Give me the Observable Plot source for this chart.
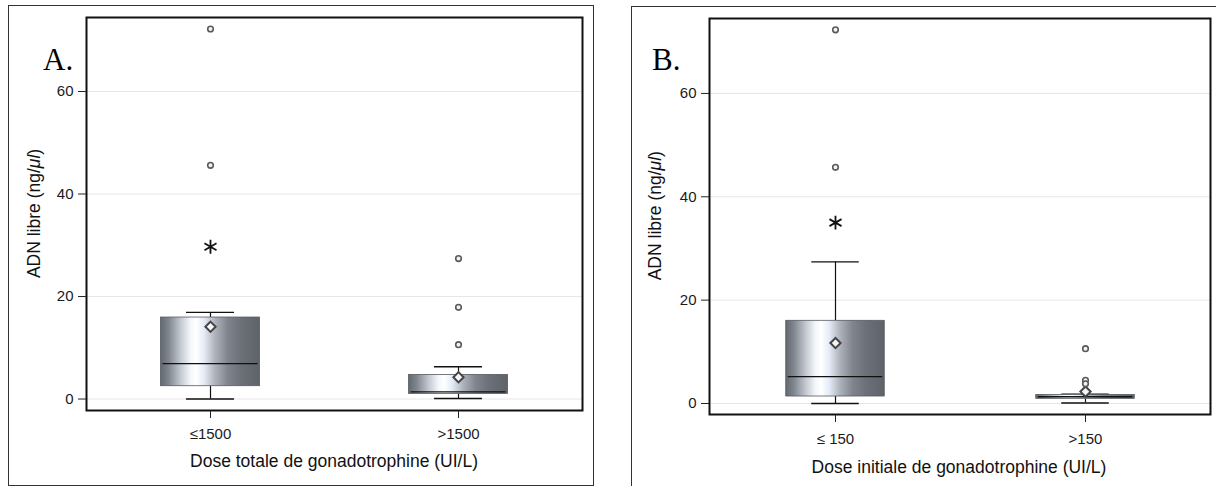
<!DOCTYPE html>
<html><head><meta charset="utf-8">
<script src="https://cdn.jsdelivr.net/npm/d3@7"></script>
<script src="https://cdn.jsdelivr.net/npm/@observablehq/plot@0.6"></script>
<style>
body{margin:0;background:#fff;overflow:hidden;}
#wrap{position:relative;width:1216px;height:486px;overflow:hidden;}
.outer{position:absolute;border:1.5px solid #333;box-sizing:border-box;}
.panel{position:absolute;top:0;}
#wrap svg g[aria-label*="tick label"], #wrap svg g[aria-label*="tick label"] text { font-size: 15px !important; }
</style></head><body>
<div id="wrap">
  <div class="outer" style="left:8px;top:5px;width:586px;height:481px"></div>
  <div class="outer" style="left:631px;top:6px;width:620px;height:520px"></div>
  <div class="panel" id="pa" style="left:0px"></div>
  <div class="panel" id="pb" style="left:616px"></div>
</div>
<script>
// ---------- Panel A data ----------
const groupsA = ["≤1500", ">1500"];
const q1A = [2.5, 1.0];
const medianA = [6.9, 1.4];
const q3A = [15.9, 4.7];
const whiskerLowA = [0, 0.1];
const whiskerHighA = [16.9, 6.3];
const meanA = [14.1, 4.25];
const outlierGroupA = ["≤1500", "≤1500", ">1500", ">1500", ">1500"];
const outlierValueA = [72.2, 45.6, 27.4, 17.9, 10.6];
const extremeGroupA = ["≤1500"];
const extremeValueA = [29.7];

// ---------- Panel B data ----------
const groupsB = ["≤ 150", ">150"];
const q1B = [1.35, 0.9];
const medianB = [5.2, 1.3];
const q3B = [16.0, 1.65];
const whiskerLowB = [0, 0.1];
const whiskerHighB = [27.4, 1.8];
const meanB = [11.7, 2.3];
const outlierGroupB = ["≤ 150", "≤ 150", ">150", ">150", ">150"];
const outlierValueB = [72.3, 45.7, 10.6, 4.5, 3.8];
const extremeGroupB = ["≤ 150"];
const extremeValueB = [35.0];

const yTicks = [0, 20, 40, 60];
const yLabelMain = "ADN libre (ng/";
const yLabelUnit = "μl";
const xLabelA = "Dose totale de gonadotrophine (UI/L)";
const xLabelB = "Dose initiale de gonadotrophine (UI/L)";

const SANS = "'Liberation Sans', Arial, sans-serif";

function panel(cfg) {
  const boxes = cfg.groups.map((g, i) => ({
    g, q1: cfg.q1[i], med: cfg.med[i], q3: cfg.q3[i],
    lo: cfg.lo[i], hi: cfg.hi[i], mean: cfg.mean[i]
  }));
  const outs = cfg.outG.map((g, i) => ({g, v: cfg.outV[i]}));
  const exts = cfg.extG.map((g, i) => ({g, v: cfg.extV[i]}));
  const bw = (cfg.width - cfg.ml - cfg.mr) / 2;
  const boxInset = (bw - 99) / 2;
  const capInset = (bw - 48) / 2;
  const svg = Plot.plot({
    width: cfg.width, height: cfg.height,
    marginLeft: cfg.ml, marginRight: cfg.mr, marginTop: cfg.mt, marginBottom: cfg.mb,
    style: {fontFamily: SANS, fontSize: "15px", color: "#222", background: "transparent", overflow: "visible"},
    x: {type: "band", domain: cfg.groups, padding: 0},
    y: {domain: cfg.ydom},
    marks: [
      Plot.gridY(yTicks, {stroke: "#e6e6e6", strokeOpacity: 1, strokeWidth: 1}),
      Plot.ruleX(boxes, {x: "g", y1: "q3", y2: "hi", stroke: "#111", strokeWidth: 1.2}),
      Plot.ruleX(boxes, {x: "g", y1: "lo", y2: "q1", stroke: "#111", strokeWidth: 1.2}),
      Plot.tickY(boxes, {x: "g", y: "hi", insetLeft: capInset, insetRight: capInset, stroke: "#111", strokeWidth: 1.3}),
      Plot.tickY(boxes, {x: "g", y: "lo", insetLeft: capInset, insetRight: capInset, stroke: "#111", strokeWidth: 1.3}),
      Plot.barY(boxes, {x: "g", y1: "q1", y2: "q3", insetLeft: boxInset, insetRight: boxInset,
        fill: `url(#${cfg.gid})`, stroke: "#555a62", strokeWidth: 0.8, ariaLabel: "box"}),
      Plot.tickY(boxes, {x: "g", y: "med", insetLeft: boxInset + 2, insetRight: boxInset + 2, stroke: "#111", strokeWidth: 1.4}),
      Plot.dot(boxes, {x: "g", y: "mean", symbol: "diamond2", r: 4.6, stroke: "#444", strokeWidth: 2, fill: "#f4f6f9", ariaLabel: "mean"}),
      Plot.dot(outs, {x: "g", y: "v", r: 2.8, stroke: "#5a5a5a", strokeWidth: 1.6, fill: "#f2f2f2", ariaLabel: "outlier"}),
      Plot.dot(exts, {x: "g", y: "v", symbol: "asterisk", r: 6.6, stroke: "#111", strokeWidth: 1.8}),
      Plot.frame({stroke: "#111", strokeWidth: 2}),
      Plot.axisY({ticks: yTicks, tickSize: 8, tickPadding: 5, label: null, fontSize: 15, tickFormat: d => String(d)}),
      Plot.axisX({tickSize: 8, tickPadding: cfg.xpad, label: null, fontSize: 15})
    ]
  });
  const s = d3.select(svg);
  s.selectAll('g[aria-label$="tick label"]').attr("font-size", 15);
  s.selectAll('g[aria-label$="tick label"] text').attr("fill", "#1a1a1a");

  const defs = s.insert("defs", ":first-child");
  const grad = defs.append("linearGradient").attr("id", cfg.gid).attr("x1", 0).attr("x2", 1).attr("y1", 0).attr("y2", 0);
  [[0, "#646971"], [0.08, "#7f858d"], [0.2, "#c2c7cf"], [0.3, "#f3f6fa"], [0.36, "#ffffff"], [0.44, "#e4ecf7"],
   [0.55, "#aeb3bb"], [0.68, "#80858d"], [0.82, "#6b7078"], [1, "#5e6369"]]
    .forEach(([o, c]) => grad.append("stop").attr("offset", o).attr("stop-color", c));
  const f = defs.append("filter").attr("id", cfg.gid + "sh").attr("x", "-30%").attr("y", "-30%").attr("width", "160%").attr("height", "160%");
  f.append("feDropShadow").attr("dx", 1).attr("dy", 2).attr("stdDeviation", 2).attr("flood-color", "#000").attr("flood-opacity", 0.35);
  const f2 = defs.append("filter").attr("id", cfg.gid + "sh2").attr("x", "-100%").attr("y", "-100%").attr("width", "300%").attr("height", "300%");
  f2.append("feDropShadow").attr("dx", 1).attr("dy", 1).attr("stdDeviation", 1.5).attr("flood-color", "#000").attr("flood-opacity", 0.3);
  s.selectAll('g[aria-label="box"]').attr("filter", `url(#${cfg.gid}sh)`);
  s.selectAll('g[aria-label="outlier"]').attr("filter", `url(#${cfg.gid}sh2)`);

  // axis labels
  s.append("text").attr("x", cfg.xlX).attr("y", cfg.xlY).attr("text-anchor", "middle")
    .attr("font-family", SANS).attr("font-size", 17.5).attr("fill", "#111").text(cfg.xlabel);
  const yl = s.append("text").attr("transform", `translate(${cfg.ylX},${cfg.ylY}) rotate(-90)`)
    .attr("text-anchor", "middle").attr("dominant-baseline", "central")
    .attr("font-family", SANS).attr("font-size", 17.5).attr("fill", "#111");
  yl.append("tspan").text(yLabelMain);
  yl.append("tspan").attr("font-style", "italic").text(yLabelUnit);
  yl.append("tspan").text(")");
  s.append("text").attr("x", cfg.letX).attr("y", 70).attr("text-anchor", "start")
    .attr("font-family", "'Liberation Serif', 'Times New Roman', serif")
    .attr("font-size", 31).attr("fill", "#000").text(cfg.letter);
  return svg;
}

document.getElementById("pa").appendChild(panel({
  groups: groupsA, q1: q1A, med: medianA, q3: q3A, lo: whiskerLowA, hi: whiskerHighA, mean: meanA,
  outG: outlierGroupA, outV: outlierValueA, extG: extremeGroupA, extV: extremeValueA,
  width: 600, height: 486, ml: 86, mr: 18, mt: 17, mb: 76, ydom: [-2.24, 74.44], gid: "gA", xpad: 10,
  xlabel: xLabelA, xlX: 334, xlY: 467, ylX: 33.5, ylY: 213.5, letter: "A.", letX: 43
}));
document.getElementById("pb").appendChild(panel({
  groups: groupsB, q1: q1B, med: medianB, q3: q3B, lo: whiskerLowB, hi: whiskerHighB, mean: meanB,
  outG: outlierGroupB, outV: outlierValueB, extG: extremeGroupB, extV: extremeValueB,
  width: 600, height: 486, ml: 93, mr: 6, mt: 18, mb: 72, ydom: [-2.13, 74.5], gid: "gB", xpad: 11,
  xlabel: xLabelB, xlX: 343, xlY: 473, ylX: 39, ylY: 215.7, letter: "B.", letX: 36
}));
</script>
</body></html>
